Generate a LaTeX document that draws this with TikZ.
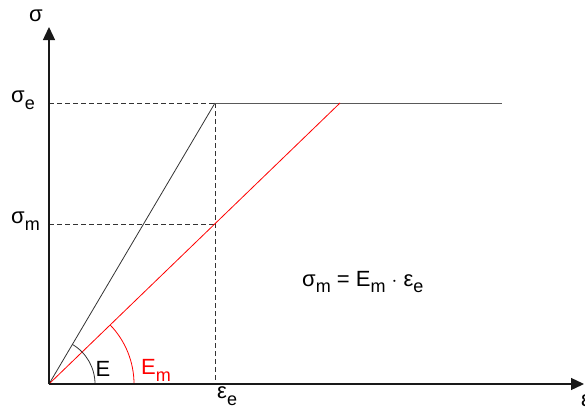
\documentclass[tikz,border=0pt]{standalone}
\usepackage{fontspec}
\setmainfont{Liberation Sans}
\usetikzlibrary{arrows.meta}
\newcommand{\sub}[1]{\raisebox{-0.6ex}{\fontsize{18}{18}\selectfont #1}}
\begin{document}
\begin{tikzpicture}[x=1pt,y=-1pt,
  lbl/.style={inner sep=0pt,font=\fontsize{22}{22}\selectfont},
  axisline/.style={line width=1.3pt,color=black!90,-{Triangle[length=13pt,width=12pt]}},
  plotline/.style={line width=0.8pt},
  guide/.style={line width=0.8pt,dash pattern=on 5pt off 3pt,color=black!80}]
\useasboundingbox (0,0) rectangle (585,410);
\coordinate (O) at (49,384);
\coordinate (ytop) at (49,27);
\coordinate (xend) at (584,384);
\coordinate (P) at (215,103);
\coordinate (Q) at (215,224);
\coordinate (R) at (340,103);
\coordinate (Hend) at (502,103);
\coordinate (Ye) at (49,103);
\coordinate (Ym) at (49,224);
\coordinate (Xe) at (215,384);
% dashed guides
\draw[guide] (Ye) -- (P);
\draw[guide] (Ym) -- (Q);
\draw[guide] (P) -- (Xe);
% lines
\draw[plotline,black!80] (O) -- (P);
\draw[plotline,black!65] (P) -- (Hend);
\draw[plotline,red] (O) -- (R);
% arcs
\draw[plotline,black!80] (O) ++(46,0) arc[start angle=0,end angle=-59.4,radius=46];
\draw[plotline,red] (O) ++(85,0) arc[start angle=0,end angle=-44,radius=85];
% axes
\draw[axisline] (O) -- (ytop);
\draw[axisline] (O) -- (xend);
% labels
\node[lbl] (ls) at (36,16) {σ};
\node[lbl,anchor=east] (lse) at (35,100) {σ\sub{e}};
\node[lbl,anchor=east] (lsm) at (40,221) {σ\sub{m}};
\node[lbl,anchor=west] (lee) at (217,396) {ε\sub{e}};
\node[lbl,anchor=west] (lex) at (581,401) {ε};
\node[lbl] (lE) at (103,369) {E};
\node[lbl,red,anchor=west] (lEm) at (141,370) {E\sub{m}};
\node[lbl,anchor=west] (form) at (302,282) {σ\sub{m} = E\sub{m} $\cdot$ ε\sub{e}};
\end{tikzpicture}
\end{document}
